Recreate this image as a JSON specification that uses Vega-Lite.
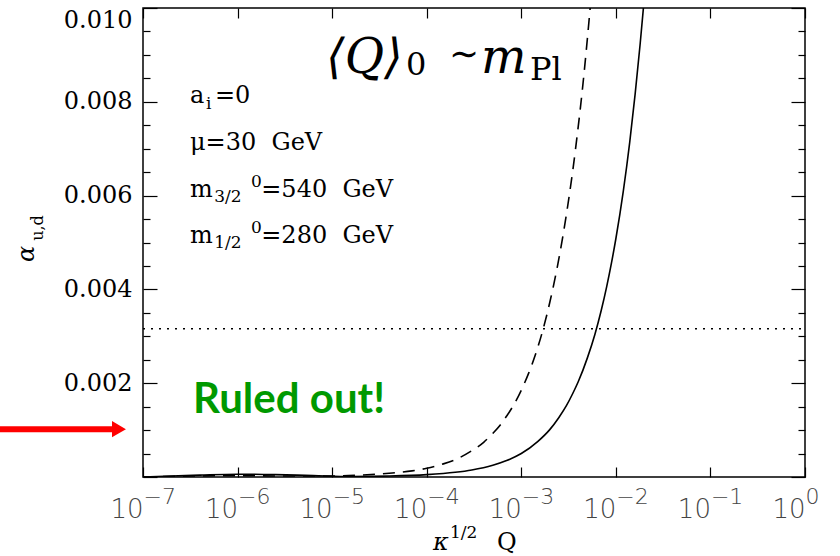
{
  "$schema": "https://vega.github.io/schema/vega-lite/v6.json",
  "width": 662,
  "height": 469,
  "autosize": {"type": "none"},
  "padding": {"left": 143, "top": 8, "right": 35, "bottom": 79},
  "background": "white",
  "config": {
    "view": {"stroke": "#000", "strokeWidth": 1.5},
    "axis": {"grid": false, "domain": false, "tickColor": "#000", "tickWidth": 1.2}
  },
  "datasets": {
    "curves": [
      {"kq": 1e-7, "alpha": 0.0, "model": "solid"},
      {"kq": 2e-7, "alpha": 0.00002, "model": "solid"},
      {"kq": 4e-7, "alpha": 0.00004, "model": "solid"},
      {"kq": 1e-6, "alpha": 0.00006, "model": "solid"},
      {"kq": 2.5e-6, "alpha": 0.00005, "model": "solid"},
      {"kq": 6.3e-6, "alpha": 0.00003, "model": "solid"},
      {"kq": 1.6e-5, "alpha": 0.00001, "model": "solid"},
      {"kq": 4e-5, "alpha": 0.00002, "model": "solid"},
      {"kq": 1e-4, "alpha": 0.00005, "model": "solid"},
      {"kq": 2e-4, "alpha": 0.0001, "model": "solid"},
      {"kq": 3e-4, "alpha": 0.00015, "model": "solid"},
      {"kq": 5e-4, "alpha": 0.00025, "model": "solid"},
      {"kq": 7e-4, "alpha": 0.00035, "model": "solid"},
      {"kq": 1e-3, "alpha": 0.0005, "model": "solid"},
      {"kq": 1.5e-3, "alpha": 0.00076, "model": "solid"},
      {"kq": 2e-3, "alpha": 0.00101, "model": "solid"},
      {"kq": 2.5e-3, "alpha": 0.00127, "model": "solid"},
      {"kq": 3e-3, "alpha": 0.00152, "model": "solid"},
      {"kq": 3.5e-3, "alpha": 0.00178, "model": "solid"},
      {"kq": 4e-3, "alpha": 0.00203, "model": "solid"},
      {"kq": 5e-3, "alpha": 0.00254, "model": "solid"},
      {"kq": 6e-3, "alpha": 0.00304, "model": "solid"},
      {"kq": 7e-3, "alpha": 0.00355, "model": "solid"},
      {"kq": 8e-3, "alpha": 0.00406, "model": "solid"},
      {"kq": 9e-3, "alpha": 0.00457, "model": "solid"},
      {"kq": 1e-2, "alpha": 0.00508, "model": "solid"},
      {"kq": 1.2e-2, "alpha": 0.0061, "model": "solid"},
      {"kq": 1.4e-2, "alpha": 0.00713, "model": "solid"},
      {"kq": 1.6e-2, "alpha": 0.00817, "model": "solid"},
      {"kq": 1.8e-2, "alpha": 0.0092, "model": "solid"},
      {"kq": 1.95e-2, "alpha": 0.00997, "model": "solid"},
      {"kq": 2.1e-2, "alpha": 0.0108, "model": "solid"},
      {"kq": 1e-7, "alpha": 0.0, "model": "dashed"},
      {"kq": 3.2e-7, "alpha": 0.00002, "model": "dashed"},
      {"kq": 1e-6, "alpha": 0.00003, "model": "dashed"},
      {"kq": 3.2e-6, "alpha": 0.00002, "model": "dashed"},
      {"kq": 1e-5, "alpha": 0.00002, "model": "dashed"},
      {"kq": 2e-5, "alpha": 0.00004, "model": "dashed"},
      {"kq": 4e-5, "alpha": 0.00008, "model": "dashed"},
      {"kq": 7e-5, "alpha": 0.00013, "model": "dashed"},
      {"kq": 1e-4, "alpha": 0.000185, "model": "dashed"},
      {"kq": 1.5e-4, "alpha": 0.00028, "model": "dashed"},
      {"kq": 2e-4, "alpha": 0.00037, "model": "dashed"},
      {"kq": 3e-4, "alpha": 0.00056, "model": "dashed"},
      {"kq": 4e-4, "alpha": 0.00074, "model": "dashed"},
      {"kq": 5e-4, "alpha": 0.00093, "model": "dashed"},
      {"kq": 6e-4, "alpha": 0.00111, "model": "dashed"},
      {"kq": 7e-4, "alpha": 0.0013, "model": "dashed"},
      {"kq": 8e-4, "alpha": 0.00148, "model": "dashed"},
      {"kq": 1e-3, "alpha": 0.00185, "model": "dashed"},
      {"kq": 1.2e-3, "alpha": 0.00222, "model": "dashed"},
      {"kq": 1.4e-3, "alpha": 0.00259, "model": "dashed"},
      {"kq": 1.7e-3, "alpha": 0.00315, "model": "dashed"},
      {"kq": 2e-3, "alpha": 0.00372, "model": "dashed"},
      {"kq": 2.5e-3, "alpha": 0.00466, "model": "dashed"},
      {"kq": 3e-3, "alpha": 0.0056, "model": "dashed"},
      {"kq": 3.5e-3, "alpha": 0.00653, "model": "dashed"},
      {"kq": 4e-3, "alpha": 0.00747, "model": "dashed"},
      {"kq": 4.5e-3, "alpha": 0.0084, "model": "dashed"},
      {"kq": 5e-3, "alpha": 0.00935, "model": "dashed"},
      {"kq": 5.35e-3, "alpha": 0.01, "model": "dashed"},
      {"kq": 5.8e-3, "alpha": 0.0108, "model": "dashed"}
    ],
    "limit": [{"kq": 1e-7, "kq2": 1, "alpha": 0.00316}],
    "arrow": [{"kq": 3.0e-9, "kq2": 4.7e-8, "head": 5.57e-8, "alpha": 0.00102}],
    "labels": [
      {"text": "a", "kq": 3.140e-7, "alpha": 0.0079744, "kind": "param"},
      {"text": "i", "kq": 4.637e-7, "alpha": 0.0078465, "kind": "paramsub"},
      {"text": "=0", "kq": 5.771e-7, "alpha": 0.0079744, "kind": "param"},
      {"text": "μ=30\u00a0\u00a0GeV", "kq": 3.140e-7, "alpha": 0.0069723, "kind": "param"},
      {"text": "m", "kq": 3.140e-7, "alpha": 0.0059701, "kind": "param"},
      {"text": "3/2", "kq": 5.670e-7, "alpha": 0.0058635, "kind": "paramsub"},
      {"text": "0", "kq": 1.390e-6, "alpha": 0.0061834, "kind": "paramsub"},
      {"text": "=540\u00a0\u00a0GeV", "kq": 1.780e-6, "alpha": 0.0059701, "kind": "param"},
      {"text": "m", "kq": 3.140e-7, "alpha": 0.0049893, "kind": "param"},
      {"text": "1/2", "kq": 5.670e-7, "alpha": 0.0048827, "kind": "paramsub"},
      {"text": "0", "kq": 1.390e-6, "alpha": 0.0052026, "kind": "paramsub"},
      {"text": "=280\u00a0\u00a0GeV", "kq": 1.780e-6, "alpha": 0.0049893, "kind": "param"},
      {"text": "⟨Q⟩", "kq": 8.612e-6, "alpha": 0.0086141, "kind": "titleit"},
      {"text": "0", "kq": 6.039e-5, "alpha": 0.0085714, "kind": "titlesub"},
      {"text": "∼", "kq": 1.72e-4, "alpha": 0.0087633, "kind": "titlesym"},
      {"text": "m", "kq": 3.751e-4, "alpha": 0.0086141, "kind": "titleit"},
      {"text": "Pl", "kq": 1.236e-3, "alpha": 0.0084648, "kind": "titlesub"},
      {"text": "κ", "kq": 1.165e-4, "alpha": -0.0015565, "kind": "xtitleit"},
      {"text": "1/2", "kq": 1.763e-4, "alpha": -0.0013006, "kind": "paramsub"},
      {"text": "Q", "kq": 5.536e-4, "alpha": -0.0015565, "kind": "param"},
      {"text": "α", "kq": 5.935e-9, "alpha": 0.0047548, "kind": "ytitle"},
      {"text": "u,d", "kq": 7.755e-9, "alpha": 0.0053092, "kind": "ytitlesub"},
      {"text": "Ruled out!", "kq": 3.379e-7, "alpha": 0.0013646, "kind": "ruled"}
    ]
  },
  "resolve": {"axis": {"x": "independent", "y": "independent"}},
  "layer": [
    {
      "data": {"name": "curves"},
      "transform": [{"filter": "datum.model == 'solid'"}],
      "mark": {"type": "line", "color": "#000", "strokeWidth": 1.6, "interpolate": "monotone", "clip": true},
      "encoding": {
        "x": {"field": "kq", "type": "quantitative", "title": null,
          "scale": {"type": "log", "domain": [1e-7, 1], "nice": false},
          "axis": {"orient": "bottom", "values": [1e-7, 1e-6, 1e-5, 1e-4, 1e-3, 1e-2, 1e-1, 1],
            "labelExpr": "'10'", "tickSize": -10, "labelPadding": 50, "labelBaseline": "alphabetic",
            "labelAlign": "right", "labelDx": 2, "labelFont": "DejaVu Sans", "labelFontSize": 26,
            "labelFontWeight": 200, "labelColor": "#444", "labelFlush": false, "labelOverlap": false, "labelBound": false}},
        "y": {"field": "alpha", "type": "quantitative", "title": null,
          "scale": {"domain": [0, 0.01], "nice": false, "zero": false},
          "axis": {"orient": "left", "values": [0, 0.002, 0.004, 0.006, 0.008, 0.01],
            "labelExpr": "datum.value == 0 ? '' : format(datum.value, '.3f')", "tickSize": -14,
            "labelPadding": 25, "labelFont": "DejaVu Serif", "labelFontSize": 24, "labelColor": "#000",
            "labelBaseline": {"condition": {"test": "datum.value >= 0.0099", "value": "top"}, "value": "middle"},
            "labelDy": 3, "labelFlush": false, "labelOverlap": false}}
      }
    },
    {
      "data": {"name": "curves"},
      "transform": [{"filter": "datum.model == 'dashed'"}],
      "mark": {"type": "line", "color": "#000", "strokeWidth": 1.6, "strokeDash": [12, 8], "interpolate": "monotone", "clip": true},
      "encoding": {
        "x": {"field": "kq", "type": "quantitative", "axis": null,
          "scale": {"type": "log", "domain": [1e-7, 1], "nice": false}},
        "y": {"field": "alpha", "type": "quantitative", "axis": null,
          "scale": {"domain": [0, 0.01], "nice": false, "zero": false}}
      }
    },
    {
      "data": {"name": "limit"},
      "mark": {"type": "rule", "color": "#000", "strokeWidth": 1.5, "strokeDash": [2, 6]},
      "encoding": {
        "x": {"field": "kq", "type": "quantitative", "title": null,
          "scale": {"type": "log", "domain": [1e-7, 1], "nice": false},
          "axis": {"orient": "top", "values": [1e-7, 1e-6, 1e-5, 1e-4, 1e-3, 1e-2, 1e-1, 1], "tickSize": -10, "labels": false}},
        "x2": {"field": "kq2"},
        "y": {"field": "alpha", "type": "quantitative", "title": null,
          "scale": {"domain": [0, 0.01], "nice": false, "zero": false},
          "axis": {"orient": "right", "values": [0, 0.002, 0.004, 0.006, 0.008, 0.01], "tickSize": -14, "labels": false}}
      }
    },
    {
      "data": {"name": "arrow"},
      "mark": {"type": "rule", "color": "#ff0000", "strokeWidth": 6, "clip": false},
      "encoding": {
        "x": {"field": "kq", "type": "quantitative", "title": null,
          "scale": {"type": "log", "domain": [1e-7, 1], "nice": false},
          "axis": {"orient": "bottom", "values": [1e-7, 1e-6, 1e-5, 1e-4, 1e-3, 1e-2, 1e-1, 1], "ticks": false,
            "labelExpr": "datum.value >= 1 ? '0' : '−' + format(round(-log(datum.value)/LN10), 'd')",
            "labelAlign": "left", "labelDx": 2, "labelPadding": 26, "labelBaseline": "alphabetic",
            "labelFont": "DejaVu Sans", "labelFontSize": 22, "labelFontWeight": 200, "labelColor": "#444",
            "labelFlush": false, "labelOverlap": false, "labelBound": false}},
        "x2": {"field": "kq2"},
        "y": {"field": "alpha", "type": "quantitative", "title": null,
          "scale": {"domain": [0, 0.01], "nice": false, "zero": false},
          "axis": {"orient": "left", "values": [0.0005, 0.001, 0.0015, 0.0025, 0.003, 0.0035, 0.0045, 0.005, 0.0055, 0.0065, 0.007, 0.0075, 0.0085, 0.009, 0.0095], "tickSize": -7, "labels": false}}
      }
    },
    {
      "data": {"name": "arrow"},
      "mark": {"type": "point", "shape": "triangle-right", "filled": true, "color": "#ff0000", "opacity": 1, "size": 260, "clip": false},
      "encoding": {
        "x": {"field": "head", "type": "quantitative", "axis": null,
          "scale": {"type": "log", "domain": [1e-7, 1], "nice": false}},
        "y": {"field": "alpha", "type": "quantitative", "title": null,
          "scale": {"domain": [0, 0.01], "nice": false, "zero": false},
          "axis": {"orient": "right", "values": [0.0005, 0.001, 0.0015, 0.0025, 0.003, 0.0035, 0.0045, 0.005, 0.0055, 0.0065, 0.007, 0.0075, 0.0085, 0.009, 0.0095], "tickSize": -7, "labels": false}}
      }
    },
    {
      "data": {"name": "labels"},
      "transform": [{"filter": "datum.kind == 'param'"}],
      "mark": {"type": "text", "font": "DejaVu Serif", "fontSize": 24, "align": "left", "baseline": "alphabetic", "color": "#000", "clip": false},
      "encoding": {
        "x": {"field": "kq", "type": "quantitative", "axis": null, "scale": {"type": "log", "domain": [1e-7, 1], "nice": false}},
        "y": {"field": "alpha", "type": "quantitative", "axis": null, "scale": {"domain": [0, 0.01], "nice": false, "zero": false}},
        "text": {"field": "text"}
      }
    },
    {
      "data": {"name": "labels"},
      "transform": [{"filter": "datum.kind == 'paramsub'"}],
      "mark": {"type": "text", "font": "DejaVu Serif", "fontSize": 17, "align": "left", "baseline": "alphabetic", "color": "#000", "clip": false},
      "encoding": {
        "x": {"field": "kq", "type": "quantitative", "axis": null, "scale": {"type": "log", "domain": [1e-7, 1], "nice": false}},
        "y": {"field": "alpha", "type": "quantitative", "axis": null, "scale": {"domain": [0, 0.01], "nice": false, "zero": false}},
        "text": {"field": "text"}
      }
    },
    {
      "data": {"name": "labels"},
      "transform": [{"filter": "datum.kind == 'titleit'"}],
      "mark": {"type": "text", "font": "DejaVu Serif", "fontStyle": "italic", "fontSize": 48, "align": "left", "baseline": "alphabetic", "color": "#000", "clip": false},
      "encoding": {
        "x": {"field": "kq", "type": "quantitative", "axis": null, "scale": {"type": "log", "domain": [1e-7, 1], "nice": false}},
        "y": {"field": "alpha", "type": "quantitative", "axis": null, "scale": {"domain": [0, 0.01], "nice": false, "zero": false}},
        "text": {"field": "text"}
      }
    },
    {
      "data": {"name": "labels"},
      "transform": [{"filter": "datum.kind == 'titlesub'"}],
      "mark": {"type": "text", "font": "DejaVu Serif", "fontSize": 32, "align": "left", "baseline": "alphabetic", "color": "#000", "clip": false},
      "encoding": {
        "x": {"field": "kq", "type": "quantitative", "axis": null, "scale": {"type": "log", "domain": [1e-7, 1], "nice": false}},
        "y": {"field": "alpha", "type": "quantitative", "axis": null, "scale": {"domain": [0, 0.01], "nice": false, "zero": false}},
        "text": {"field": "text"}
      }
    },
    {
      "data": {"name": "labels"},
      "transform": [{"filter": "datum.kind == 'titlesym'"}],
      "mark": {"type": "text", "font": "DejaVu Serif", "fontSize": 36, "align": "left", "baseline": "alphabetic", "color": "#000", "clip": false},
      "encoding": {
        "x": {"field": "kq", "type": "quantitative", "axis": null, "scale": {"type": "log", "domain": [1e-7, 1], "nice": false}},
        "y": {"field": "alpha", "type": "quantitative", "axis": null, "scale": {"domain": [0, 0.01], "nice": false, "zero": false}},
        "text": {"field": "text"}
      }
    },
    {
      "data": {"name": "labels"},
      "transform": [{"filter": "datum.kind == 'xtitleit'"}],
      "mark": {"type": "text", "font": "DejaVu Serif", "fontStyle": "italic", "fontSize": 24, "align": "left", "baseline": "alphabetic", "color": "#000", "clip": false},
      "encoding": {
        "x": {"field": "kq", "type": "quantitative", "axis": null, "scale": {"type": "log", "domain": [1e-7, 1], "nice": false}},
        "y": {"field": "alpha", "type": "quantitative", "axis": null, "scale": {"domain": [0, 0.01], "nice": false, "zero": false}},
        "text": {"field": "text"}
      }
    },
    {
      "data": {"name": "labels"},
      "transform": [{"filter": "datum.kind == 'ytitle'"}],
      "mark": {"type": "text", "font": "DejaVu Serif", "fontStyle": "italic", "fontSize": 24, "angle": 270, "align": "center", "baseline": "middle", "color": "#000", "clip": false},
      "encoding": {
        "x": {"field": "kq", "type": "quantitative", "axis": null, "scale": {"type": "log", "domain": [1e-7, 1], "nice": false}},
        "y": {"field": "alpha", "type": "quantitative", "axis": null, "scale": {"domain": [0, 0.01], "nice": false, "zero": false}},
        "text": {"field": "text"}
      }
    },
    {
      "data": {"name": "labels"},
      "transform": [{"filter": "datum.kind == 'ytitlesub'"}],
      "mark": {"type": "text", "font": "DejaVu Serif", "fontSize": 16, "angle": 270, "align": "center", "baseline": "middle", "color": "#000", "clip": false},
      "encoding": {
        "x": {"field": "kq", "type": "quantitative", "axis": null, "scale": {"type": "log", "domain": [1e-7, 1], "nice": false}},
        "y": {"field": "alpha", "type": "quantitative", "axis": null, "scale": {"domain": [0, 0.01], "nice": false, "zero": false}},
        "text": {"field": "text"}
      }
    },
    {
      "data": {"name": "labels"},
      "transform": [{"filter": "datum.kind == 'ruled'"}],
      "mark": {"type": "text", "font": "Lato", "fontWeight": "bold", "fontSize": 42, "align": "left", "baseline": "alphabetic", "color": "#009900", "clip": false},
      "encoding": {
        "x": {"field": "kq", "type": "quantitative", "axis": null, "scale": {"type": "log", "domain": [1e-7, 1], "nice": false}},
        "y": {"field": "alpha", "type": "quantitative", "axis": null, "scale": {"domain": [0, 0.01], "nice": false, "zero": false}},
        "text": {"field": "text"}
      }
    }
  ]
}
